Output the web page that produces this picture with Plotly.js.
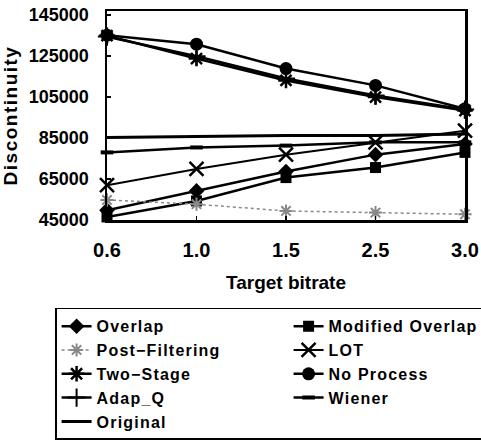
<!DOCTYPE html>
<html>
<head>
<meta charset="utf-8">
<script src="https://cdn.plot.ly/plotly-3.0.1.min.js"></script>
<style>
  html, body { margin: 0; padding: 0; background: #fff; }
  #chart { width: 481px; height: 445px; }
  .ytitle { letter-spacing: 1.5px; }
  .legendtext { letter-spacing: 1.2px; }
</style>
</head>
<body>
<div id="chart"></div>
<script>
// Data
const bitrates = ['0.6', '1.0', '1.5', '2.5', '3.0'];

const overlap         = [49800, 59200, 68700, 76900, 82100];
const modifiedOverlap = [46500, 54300, 65700, 70600, 78000];
const postFiltering   = [54800, 52700, 49400, 48600, 47800];
const lot             = [62000, 69900, 76900, 82900, 88600];
const twoStage        = [135000, 123800, 113100, 105000, 98400];
const noProcess       = [135200, 130800, 118900, 110700, 99300];
const adapQ           = [134500, 124900, 114100, 105800, 98900];
const wiener          = [78000, 80400, 81300, 82900, 82900];
const original        = [85300, 85700, 86200, 86200, 87000];

const yTicks = [45000, 65000, 85000, 105000, 125000, 145000];

const black = '#000';
function tr(name, y, marker, line) {
  const t = {
    type: 'scatter', mode: marker ? 'lines+markers' : 'lines',
    name: name, x: bitrates, y: y,
    line: Object.assign({color: black, width: 2.5}, line || {}),
    cliponaxis: false
  };
  if (marker) t.marker = marker;
  return t;
}

const traces = [
  tr('Overlap', overlap, {symbol: 'diamond', size: 12, color: black}),
  tr('Modified Overlap', modifiedOverlap, {symbol: 'square', size: 11, color: black}),
  tr('Post\u2212Filtering', postFiltering,
     {symbol: 'asterisk-open', size: 11, color: '#888', line: {color: '#888', width: 2}},
     {color: '#888', width: 1.5, dash: 'dot'}),
  tr('LOT', lot, {symbol: 'x-thin-open', size: 14, color: black, line: {color: black, width: 2.5}}, {width: 2}),
  tr('Two\u2212Stage', twoStage, {symbol: 'asterisk-open', size: 13, color: black, line: {color: black, width: 2.5}}),
  tr('No Process', noProcess, {symbol: 'circle', size: 13, color: black}),
  tr('Adap_Q', adapQ, {symbol: 'cross-thin-open', size: 13, color: black, line: {color: black, width: 2}}),
  tr('Wiener', wiener, {symbol: 'line-ew-open', size: 9, color: black, line: {color: black, width: 4}}),
  tr('Original', original, null, {width: 3})
];

const layout = {
  width: 481, height: 445,
  margin: {l: 107, r: 16, t: 11, b: 225, autoexpand: false},
  paper_bgcolor: '#fff', plot_bgcolor: '#fff',
  font: {family: 'Liberation Sans, Arial, sans-serif', color: black},
  showlegend: true,
  xaxis: {
    type: 'category', range: [0, 4],
    showgrid: false, zeroline: false,
    showline: true, linecolor: black, linewidth: 2.5, mirror: true,
    ticks: 'inside', ticklen: 4, tickwidth: 1.5, tickcolor: black,
    ticklabelstandoff: 10,
    tickfont: {family: 'Liberation Sans, Arial, sans-serif', size: 20, weight: 'bold'},
    title: {text: 'Target bitrate', standoff: 16,
            font: {family: 'Liberation Sans, Arial, sans-serif', size: 19, weight: 'bold'}}
  },
  yaxis: {
    range: [45000, 147000],
    tickvals: yTicks, ticktext: yTicks.map(String),
    showgrid: false, zeroline: false,
    showline: true, linecolor: black, linewidth: 2.5, mirror: true,
    ticks: 'inside', ticklen: 4, tickwidth: 1.5, tickcolor: black,
    ticklabelstandoff: 12,
    tickfont: {family: 'Liberation Sans, Arial, sans-serif', size: 18, weight: 'bold'},
    title: {text: 'Discontinuity', standoff: 6,
            font: {family: 'Liberation Sans, Arial, sans-serif', size: 19, weight: 'bold'}}
  },
  legend: {
    orientation: 'h',
    x: -0.145, xanchor: 'left',
    y: -0.42, yanchor: 'top',
    bordercolor: black, borderwidth: 1.5,
    bgcolor: '#fff',
    entrywidth: 187, entrywidthmode: 'pixels',
    itemwidth: 30,
    tracegroupgap: 0,
    font: {family: 'Liberation Sans, Arial, sans-serif', size: 16, weight: 'bold', color: black}
  }
};

Plotly.newPlot('chart', traces, layout, {staticPlot: true, displayModeBar: false});
</script>
</body>
</html>
